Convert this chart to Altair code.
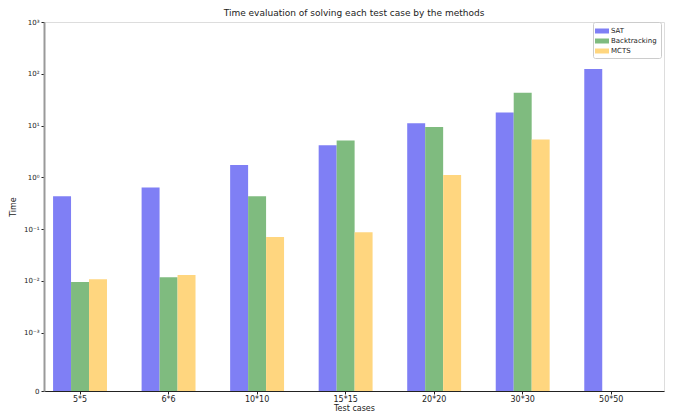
import altair as alt
import pandas as pd

cases = ["5*5", "6*6", "10*10", "15*15", "20*20", "30*30", "50*50"]
methods = ["SAT", "Backtracking", "MCTS"]
sat = [0.43, 0.635, 1.72, 4.14, 11.1, 17.8, 123]
backtracking = [0.0095, 0.0117, 0.43, 5.14, 9.4, 43, None]
mcts = [0.0107, 0.0129, 0.07, 0.0865, 1.11, 5.37, None]
colors = ["#7f7ff5", "#7fbb7f", "#ffd67f"]
y_ticks = [7.44e-5, 1e-3, 1e-2, 1e-1, 1, 10, 100, 1000]

rows = []
for m, vals in zip(methods, [sat, backtracking, mcts]):
    for c, v in zip(cases, vals):
        if v is not None:
            rows.append({"case": c, "method": m, "time": v})
df = pd.DataFrame(rows)

label_expr = (
    "datum.value < 0.0002 ? '0' : '10' + "
    "['⁻³','⁻²','⁻¹','⁰','¹','²','³'][round(log(datum.value)/LN10)+3]"
)

chart = alt.Chart(df).mark_bar().encode(
    x=alt.X("case:N", sort=cases,
            scale=alt.Scale(paddingInner=0.391, paddingOuter=0.197, align=0.26),
            axis=alt.Axis(title="Test cases", labelAngle=0, labelFontSize=8,
                          titleFontSize=8, titleFontWeight="normal",
                          titleBaseline="alphabetic", titleY=19,
                          tickSize=3, labelPadding=1,
                          domainColor="#222", tickColor="#222",
                          labelColor="#222", titleColor="#222")),
    xOffset=alt.XOffset("method:N", sort=methods,
                        scale=alt.Scale(domain=methods, paddingInner=0, paddingOuter=0)),
    y=alt.Y("time:Q",
            scale=alt.Scale(type="log", domain=[y_ticks[0], 1000], nice=False),
            axis=alt.Axis(title="Time", values=y_ticks, labelExpr=label_expr,
                          labelFontSize=7, titleFontSize=8, titleFontWeight="normal",
                          tickSize=3, grid=False, domainColor="#999", domainWidth=2,
                          tickColor="#222", labelColor="#222", titleColor="#222",
                          titlePadding=6, labelPadding=2)),
    y2=alt.Y2(datum=y_ticks[0]),
    color=alt.Color("method:N", sort=methods,
                    scale=alt.Scale(domain=methods, range=colors),
                    legend=alt.Legend(title=None, orient="none", legendX=549, legendY=0,
                                      symbolType="M-1.4,-0.5H1.4V0.5H-1.4Z",
                                      symbolSize=100, symbolStrokeWidth=0,
                                      labelFontSize=7, labelColor="#222",
                                      labelOffset=4, rowPadding=2, padding=4,
                                      strokeColor="#ccc", fillColor="white",
                                      cornerRadius=2)),
).properties(
    width=620, height=369,
    title=alt.Title("Time evaluation of solving each test case by the methods",
                    fontSize=9, fontWeight="normal", color="#222", offset=0),
    autosize=alt.AutoSizeParams(type="none"),
    padding={"left": 36, "top": 14, "right": 1, "bottom": 20},
).configure_view(stroke="#222", strokeWidth=1).configure(font="DejaVu Sans")

chart.save("out.html", embed_options={"renderer": "svg", "actions": False})
